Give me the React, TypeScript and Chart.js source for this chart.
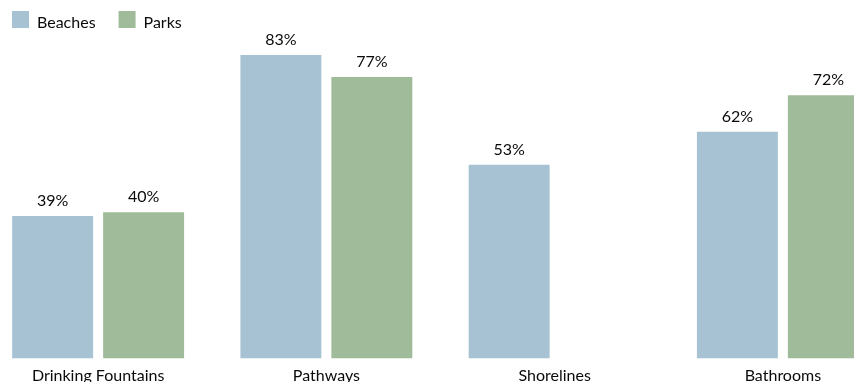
import React, { useEffect, useRef } from "react";
import { Chart, registerables } from "chart.js";

Chart.register(...registerables);

const categories = ["Drinking Fountains", "Pathways", "Shorelines", "Bathrooms"];
const beaches: (number | null)[] = [39, 83, 53, 62];
const parks: (number | null)[] = [40, 77, null, 72];
const seriesNames = ["Beaches", "Parks"];
const seriesColors = ["#a6c2d3", "#a0bb99"];

const FONT = "Lato, 'Noto Sans', sans-serif";
const TEXT_COLOR = "#0a0a0a";
const OFFSET = 16;
const CANVAS_W = 913;
const CANVAS_H = 382;

const legendPlugin = {
  id: "customLegend",
  afterDraw(chart: any) {
    const ctx = chart.ctx;
    ctx.save();
    ctx.font = `16px ${FONT}`;
    ctx.textBaseline = "alphabetic";
    ctx.textAlign = "left";
    let x = 12 + OFFSET;
    seriesNames.forEach((name, i) => {
      ctx.fillStyle = seriesColors[i];
      ctx.fillRect(x, 11, 17, 17);
      ctx.fillStyle = TEXT_COLOR;
      ctx.fillText(name, x + 25, 28);
      x += 25 + ctx.measureText(name).width + 23;
    });
    ctx.restore();
  },
};

const valueLabelPlugin = {
  id: "valueLabels",
  afterDatasetsDraw(chart: any) {
    const ctx = chart.ctx;
    ctx.save();
    ctx.font = `16px ${FONT}`;
    ctx.fillStyle = TEXT_COLOR;
    ctx.textAlign = "center";
    ctx.textBaseline = "alphabetic";
    chart.data.datasets.forEach((ds: any, di: number) => {
      const meta = chart.getDatasetMeta(di);
      meta.data.forEach((el: any, i: number) => {
        const v = ds.data[i];
        if (v === null || v === undefined) return;
        ctx.fillText(`${v}%`, el.x, el.y - 10);
      });
    });
    ctx.restore();
  },
};

export default function App() {
  const ref = useRef<HTMLCanvasElement>(null);

  useEffect(() => {
    document.body.style.margin = "0";
    if (!ref.current) return;
    const chart = new Chart(ref.current, {
      type: "bar",
      data: {
        labels: categories,
        datasets: [
          {
            label: seriesNames[0],
            data: beaches,
            backgroundColor: seriesColors[0],
            borderWidth: 0,
            categoryPercentage: 0.797,
            barPercentage: 0.89,
          },
          {
            label: seriesNames[1],
            data: parks,
            backgroundColor: seriesColors[1],
            borderWidth: 0,
            categoryPercentage: 0.797,
            barPercentage: 0.89,
          },
        ],
      },
      options: {
        responsive: false,
        animation: false,
        devicePixelRatio: 1,
        layout: { padding: { top: 29.4, bottom: 0, left: 0, right: 0 } },
        plugins: {
          legend: { display: false },
          tooltip: { enabled: false },
        },
        scales: {
          x: {
            grid: { display: false, drawTicks: false },
            border: { display: false },
            ticks: {
              padding: 8,
              color: TEXT_COLOR,
              font: { family: FONT, size: 16 },
              maxRotation: 0,
              autoSkip: false,
            },
            afterFit: (s: any) => {
              s.height = 23.5;
            },
          },
          y: {
            display: false,
            min: 0,
            max: 90,
          },
        },
      },
      plugins: [legendPlugin, valueLabelPlugin],
    });
    return () => chart.destroy();
  }, []);

  return (
    <div
      style={{
        position: "fixed",
        top: 0,
        left: 0,
        width: 854,
        height: 382,
        overflow: "hidden",
        background: "#ffffff",
      }}
    >
      <canvas
        ref={ref}
        width={CANVAS_W}
        height={CANVAS_H}
        style={{ position: "absolute", left: -OFFSET, top: 0, width: CANVAS_W, height: CANVAS_H }}
      />
    </div>
  );
}
